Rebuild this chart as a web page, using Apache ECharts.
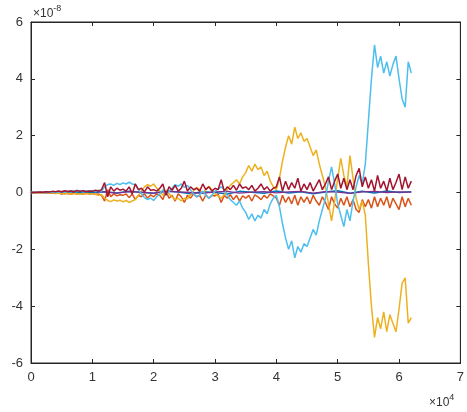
<!DOCTYPE html>
<html>
<head>
<meta charset="utf-8">
<script src="https://cdn.jsdelivr.net/npm/echarts@6/dist/echarts.min.js"></script>
<style>
  html, body { margin: 0; padding: 0; background: #fff; }
  #main { width: 467px; height: 412px; }
</style>
</head>
<body>
<div id="main"></div>
<script>
// sample spacing (x units) for the dense and the sparse series
var step = 500;
var stepSparse = 2000;

var xTicks = [0, 1, 2, 3, 4, 5, 6, 7];
var yTicks = [-6, -4, -2, 0, 2, 4, 6];

// values in units of 1e-8
var lightBlue = [
  0, 0, 0.01, 0, 0.01, -0.01, 0.02, 0, 0.02, 0.01,
  0.03, 0.01, 0.04, 0.02, 0.05, 0.03, 0.06, 0.02, 0.05, 0.04,
  0.06, 0.03, 0.08, 0.05, 0.2, 0.28, 0.3, 0.25, 0.32, 0.28,
  0.34, 0.3, 0.36, 0.3, 0.28, 0.12, -0.05, -0.18, -0.25, -0.2,
  -0.28, -0.15, -0.05, 0.1, -0.08, 0.05, 0.15, 0.28, 0.22, 0.3,
  0.18, 0.25, 0.1, -0.05, -0.15, -0.08, 0.05, -0.1, -0.2, -0.1,
  0.05, 0.12, 0.2, 0.1, -0.1, -0.25, -0.35, -0.45, -0.3, -0.55,
  -0.7, -0.95, -0.75, -1.0, -0.8, -0.9, -0.6, -0.75, -0.4, -0.2,
  -0.1, -0.5, -1.1, -1.6, -2.0, -1.7, -2.3, -1.9, -2.1, -1.8,
  -1.9, -1.6, -1.3, -1.5, -1.0, -0.6, -0.2, 0.4, 0.9, 0.3,
  -0.4, -0.8, -1.2, -0.6, -1.0, -0.3, 0.2, 0.6, 0.3, 1.0,
  2.5, 4.0, 5.2, 4.4, 4.8, 4.2, 4.6, 4.1, 4.5, 4.8,
  4.0, 3.3, 3.0, 4.6, 4.2
];

var yellow = [
  0, 0, -0.01, 0, -0.02, 0, -0.02, -0.01, -0.03, -0.02,
  -0.03, -0.05, -0.02, -0.06, -0.03, -0.05, -0.04, -0.06, -0.03, -0.05,
  -0.04, -0.06, -0.1, -0.08, -0.2, -0.28, -0.32, -0.26, -0.3, -0.27,
  -0.33, -0.28, -0.35, -0.3, -0.25, -0.1, 0.05, 0.2, 0.28, 0.22,
  0.3, 0.15, 0.05, -0.1, 0.08, -0.05, -0.15, -0.25, -0.2, -0.3,
  -0.2, -0.22, -0.08, 0.05, 0.18, 0.1, -0.05, 0.12, 0.22, 0.1,
  -0.05, -0.12, -0.2, -0.08, 0.12, 0.25, 0.35, 0.45, 0.3, 0.55,
  0.7, 0.95, 0.75, 1.0, 0.8, 0.9, 0.6, 0.75, 0.4, 0.2,
  0.1, 0.5, 1.1, 1.6, 2.0, 1.7, 2.3, 1.9, 2.1, 1.8,
  1.9, 1.6, 1.3, 1.5, 1.0, 0.6, 0.2, -0.4, -1.0, -0.3,
  0.5, 1.2, 0.6, 0.2, 1.3, 0.5, -0.2, -0.6, -0.3, -0.8,
  -2.5, -4.0, -5.1, -4.4, -4.8, -4.2, -4.9, -4.3, -4.6, -4.9,
  -4.1, -3.2, -3.0, -4.6, -4.4
];

var darkRed = [
  0, 0, 0.01, 0.02, 0.01, 0.03, 0.02, 0.04, 0.03, 0.05,
  0.02, 0.06, 0.03, 0.05, 0.02, 0.07, 0.04, 0.06, 0.03, 0.05,
  0.04, 0.08, 0.05, 0.1, 0.35, -0.15, 0.2, 0.05, 0.15, 0.08,
  0.12, 0.05, 0.2, -0.05, 0.3, 0.1, 0.15, 0.02, 0.2, 0.08,
  0.1, 0.05, 0.15, 0.3, -0.1, 0.2, 0.08, 0.25, 0.05, 0.15,
  0.4, 0.05, 0.2, 0.1, 0.15, 0.05, 0.3, 0.1, 0.2, 0.05,
  0.15, 0.1, 0.45, 0.05, 0.2, 0.1, 0.25, 0.08, 0.3, 0.15,
  0.2, 0.1, 0.25, 0.05, 0.15, 0.3, 0.1, 0.2, 0.05, 0.15,
  0.2, 0.55, 0.05, 0.4, 0.1, 0.35, 0.15, 0.5, 0.05, 0.3,
  0.1, 0.35, 0.05, 0.25, 0.45, 0.1, 0.3, 0.55, 0.1, 0.4,
  0.65, 0.15, 0.5, 0.1, 0.45, 0.1, 0.6, 0.85, 0.2, 0.55,
  0.15, 0.45, 0.05, 0.6, 0.15, 0.4, 0.05, 0.5, 0.1, 0.35,
  0.65, 0.1, 0.55, 0.15, 0.4
];

var orange = [
  0, 0, -0.01, -0.01, -0.02, -0.01, -0.03, -0.02, -0.04, -0.02,
  -0.05, -0.03, -0.04, -0.06, -0.03, -0.05, -0.04, -0.06, -0.03, -0.05,
  -0.04, -0.06, -0.05, -0.1, -0.3, 0.1, -0.15, -0.05, -0.12, -0.08,
  -0.1, -0.05, -0.18, -0.05, -0.25, -0.1, -0.15, -0.05, -0.2, -0.08,
  -0.15, -0.05, -0.1, -0.25, 0.05, -0.2, -0.1, -0.3, -0.05, -0.15,
  -0.35, -0.1, -0.2, -0.05, -0.15, -0.1, -0.3, -0.08, -0.2, -0.1,
  -0.12, -0.05, -0.35, -0.1, -0.2, -0.08, -0.25, -0.1, -0.3, -0.12,
  -0.2, -0.1, -0.3, -0.08, -0.15, -0.25, -0.1, -0.2, -0.05, -0.12,
  -0.2, -0.45, -0.1, -0.35, -0.15, -0.4, -0.1, -0.45, -0.15, -0.35,
  -0.15, -0.4, -0.1, -0.3, -0.45, -0.15, -0.35, -0.6, -0.15, -0.4,
  -0.55, -0.2, -0.45, -0.15, -0.5, -0.25, -0.6, -0.7, -0.25, -0.5,
  -0.25, -0.55, -0.15, -0.5, -0.2, -0.45, -0.15, -0.55, -0.2, -0.4,
  -0.6, -0.15, -0.5, -0.2, -0.45
];

var darkBlue = [
  0, 0, 0.01, -0.01, 0.02, 0, 0.03, -0.02, 0.04, 0,
  -0.03, 0.05, 0.02, -0.04, 0.03, 0, -0.05, 0.04, 0.01, -0.03,
  0.05, -0.02, 0.03, -0.04, 0.02, 0.06, -0.03, 0.04, -0.02, 0.05,
  0, 0.03
];

var purple = [
  0, 0.01, 0.03, 0.05, 0.06, 0.04, 0.02, -0.02, 0.03, 0.01,
  -0.02, 0.04, 0.02, 0, -0.03, 0.02, 0.04, -0.02, 0.01, 0.03,
  -0.01, 0.02, 0.04, -0.02, 0.03, 0.01, -0.03, 0.02, 0.04, 0,
  0.02, 0.01
];

function pairs(arr, dx) {
  return arr.map(function (v, i) {
    return [i * dx, v];
  });
}

function line(name, arr, dx, color, w) {
  return {
    name: name,
    type: "line",
    data: pairs(arr, dx),
    showSymbol: false,
    symbol: "none",
    lineStyle: { color: color, width: w },
    itemStyle: { color: color },
    z: 2,
  };
}

var axisColor = "#262626";
var font = "Liberation Sans, Arial, sans-serif";
var labelStyle = {
  color: "#333",
  fontFamily: font,
  fontSize: 13,
};

var chart = echarts.init(document.getElementById("main"));
var option = {
  animation: false,
  grid: {
    left: 31,
    right: 5,
    top: 22,
    bottom: 49,
    show: true,
    borderColor: axisColor,
    borderWidth: 1,
    backgroundColor: "transparent",
  },
  xAxis: [
    {
      type: "value",
      min: 0,
      max: 70000,
      interval: 10000,
      axisLine: { show: true, onZero: false, lineStyle: { color: axisColor } },
      axisTick: { show: true, inside: true, length: 4, lineStyle: { color: axisColor } },
      splitLine: { show: false },
      axisLabel: Object.assign({}, labelStyle, {
        margin: 8,
        formatter: function (v) {
          return xTicks[Math.round(v / 10000)];
        },
      }),
    },
    {
      type: "value",
      position: "top",
      min: 0,
      max: 70000,
      interval: 10000,
      axisLine: { show: true, onZero: false, lineStyle: { color: axisColor } },
      axisTick: { show: true, inside: true, length: 4, lineStyle: { color: axisColor } },
      axisLabel: { show: false },
      splitLine: { show: false },
    },
  ],
  yAxis: [
    {
      type: "value",
      min: -6,
      max: 6,
      interval: 2,
      axisLine: { show: true, onZero: false, lineStyle: { color: axisColor } },
      axisTick: { show: true, inside: true, length: 4, lineStyle: { color: axisColor } },
      splitLine: { show: false },
      axisLabel: Object.assign({}, labelStyle, {
        margin: 8,
        formatter: function (v) {
          return yTicks[Math.round((v + 6) / 2)];
        },
      }),
    },
    {
      type: "value",
      position: "right",
      min: -6,
      max: 6,
      interval: 2,
      axisLine: { show: true, onZero: false, lineStyle: { color: axisColor } },
      axisTick: { show: true, inside: true, length: 4, lineStyle: { color: axisColor } },
      axisLabel: { show: false },
      splitLine: { show: false },
    },
  ],
  graphic: [
    {
      type: "text",
      left: 33,
      top: 4,
      style: {
        text: "{a|×10}{s|-8}",
        rich: {
          a: { fontSize: 12, fill: "#333", fontFamily: font, verticalAlign: "bottom", lineHeight: 16 },
          s: { fontSize: 9, fill: "#333", fontFamily: font, verticalAlign: "top", lineHeight: 16 },
        },
      },
    },
    {
      type: "text",
      left: 429,
      top: 393,
      style: {
        text: "{a|×10}{s|4}",
        rich: {
          a: { fontSize: 12, fill: "#333", fontFamily: font, verticalAlign: "bottom", lineHeight: 16 },
          s: { fontSize: 9, fill: "#333", fontFamily: font, verticalAlign: "top", lineHeight: 16 },
        },
      },
    },
  ],
  series: [
    line("s1", darkBlue, stepSparse, "#0072BD", 1.5),
    line("s2", orange, step, "#D95319", 1.5),
    line("s3", yellow, step, "#EDB120", 1.5),
    line("s4", purple, stepSparse, "#7E2F8E", 1.3),
    line("s6", lightBlue, step, "#4DBEEE", 1.5),
    line("s7", darkRed, step, "#A2142F", 1.5),
  ],
};
chart.setOption(option);
</script>
</body>
</html>
